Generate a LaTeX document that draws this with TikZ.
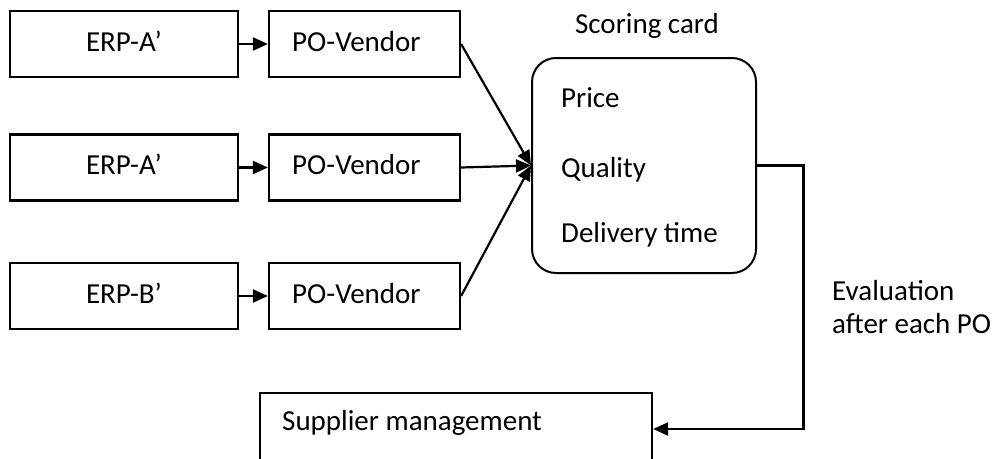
\documentclass[tikz,border=0pt]{standalone}
\usepackage{fontspec}
\setmainfont{Carlito}
\usetikzlibrary{arrows.meta}
\begin{document}
\begin{tikzpicture}[x=1pt,y=-1pt,
  box/.style={draw,line width=2.2pt,rectangle,inner sep=0pt,minimum width=#1,minimum height=66pt},
  lbl/.style={anchor=base west,inner sep=0pt,font=\fontsize{29}{35}\selectfont},
  clbl/.style={anchor=base,inner sep=0pt,font=\fontsize{29}{35}\selectfont},
  arr/.style={line width=2.2pt,-{Triangle[length=15pt,width=13pt]}},
  ]
\useasboundingbox (0,0) rectangle (995,458);
\clip (0,0) rectangle (995,458);
% row boxes
\node[box=228pt] (e1) at (124,44) {};
\node[box=228pt] (e2) at (124,167.5) {};
\node[box=228pt] (e3) at (124,296) {};
\node[box=191pt] (p1) at (364.5,44) {};
\node[box=191pt] (p2) at (364.5,167.5) {};
\node[box=191pt] (p3) at (364.5,296) {};
\node[clbl] (te1) at (124,51) {ERP-A’};
\node[clbl] (te2) at (124,174.5) {ERP-A’};
\node[clbl] (te3) at (124,303) {ERP-B’};
\node[lbl] (tp1) at (292,51) {PO-Vendor};
\node[lbl] (tp2) at (292,174.5) {PO-Vendor};
\node[lbl] (tp3) at (292,303) {PO-Vendor};
% scoring card
\node[draw,line width=2pt,rounded corners=24pt,minimum width=224pt,minimum height=215pt,inner sep=0pt] (card) at (644,165.5) {};
\node[clbl] (title) at (647,33) {Scoring card};
\node[lbl] (price) at (561,107) {Price};
\node[lbl] (qual) at (561,177) {Quality};
\node[lbl] (deliv) at (561,242) {Delivery time};
% supplier
\node[draw,line width=2.2pt,inner sep=0pt,minimum width=392pt,minimum height=72pt] (supp) at (456,429) {};
\node[lbl] (tsupp) at (282,430) {Supplier management};
\node[lbl] (eval1) at (832,300) {Evaluation};
\node[lbl] (eval2) at (832,333) {after each PO};
\coordinate (turn) at (803.5,0);
% connectors
\draw[arr] (e1.east) -- (p1.west);
\draw[arr] (e2.east) -- (p2.west);
\draw[arr] (e3.east) -- (p3.west);
\draw[arr] (p1.east) -- (card.west);
\draw[arr] (p2.east) -- (card.west);
\draw[arr] (p3.east) -- (card.west);
\draw[arr] (card.east) -| (turn |- supp.east) -- (supp.east);
\end{tikzpicture}
\end{document}
